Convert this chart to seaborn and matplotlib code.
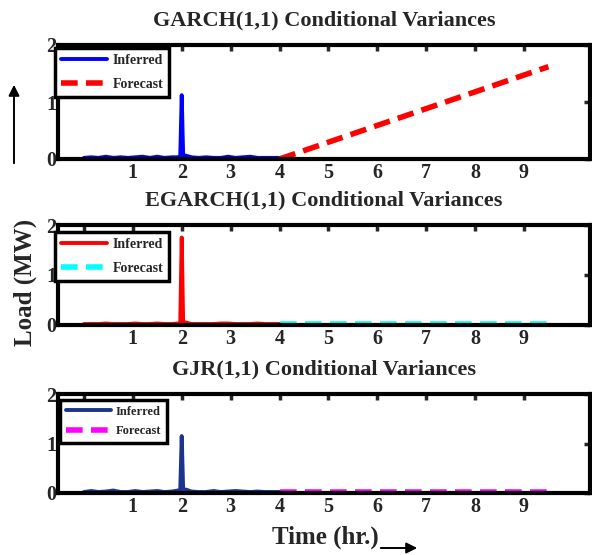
import numpy as np
import pandas as pd
import matplotlib
matplotlib.use("Agg")
import matplotlib.pyplot as plt
import seaborn as sns

# ---- data ----
titles = ["GARCH(1,1) Conditional Variances",
          "EGARCH(1,1) Conditional Variances",
          "GJR(1,1) Conditional Variances"]
inferred_x = [0.0, 0.15, 0.3, 0.45, 0.6, 0.75, 0.9, 1.05, 1.2, 1.35, 1.5, 1.65,
              1.8, 1.92, 1.97, 2.0, 2.03, 2.08, 2.2, 2.35, 2.5, 2.65, 2.8, 2.95,
              3.1, 3.25, 3.4, 3.55, 3.7, 3.85, 4.0]
garch_inferred = [0.02, 0.03, 0.02, 0.04, 0.02, 0.03, 0.02, 0.03, 0.04, 0.02, 0.04, 0.02,
                  0.03, 0.03, 0.05, 1.12, 0.05, 0.06, 0.03, 0.02, 0.03, 0.02, 0.02, 0.04,
                  0.02, 0.03, 0.04, 0.02, 0.02, 0.02, 0.02]
egarch_inferred = [0.02, 0.02, 0.02, 0.03, 0.02, 0.02, 0.02, 0.03, 0.02, 0.02, 0.03, 0.02,
                   0.02, 0.03, 0.04, 1.75, 0.04, 0.05, 0.02, 0.02, 0.02, 0.02, 0.03, 0.03,
                   0.02, 0.02, 0.02, 0.03, 0.02, 0.02, 0.02]
gjr_inferred = [0.02, 0.04, 0.02, 0.03, 0.05, 0.02, 0.02, 0.04, 0.02, 0.03, 0.04, 0.02,
                0.03, 0.05, 0.06, 1.15, 0.06, 0.07, 0.03, 0.02, 0.02, 0.04, 0.02, 0.03,
                0.04, 0.03, 0.02, 0.03, 0.02, 0.02, 0.02]
forecast_x = [4.0, 9.5]
garch_forecast = [0.0, 1.62]
egarch_forecast = [0.02, 0.02]
gjr_forecast = [0.02, 0.02]
inferred_colors = ["#0000ff", "#ff0000", "#1a3490"]
forecast_colors = ["#ff0000", "#00ffff", "#ff00ff"]
xticks = [0, 1, 2, 3, 4, 5, 6, 7, 8, 9]
xticklabels = ["", "1", "2", "3", "4", "5", "6", "7", "8", "9"]
yticks = [0, 1, 2]

sns.set_style("white")
plt.rcParams["font.family"] = ["Liberation Serif", "DejaVu Serif"]
plt.rcParams["font.weight"] = "bold"

fig = plt.figure(figsize=(5.92, 5.55), dpi=100)
H = 555.0
W = 592.0
boxes = [(58, 45, 590, 159), (58, 225, 590, 325), (58, 394, 590, 493)]
leg_fs = [10, 10, 9]
leg_hl = [3.3, 3.3, 3.6]
leg_ls = [0.75, 0.75, 0.6]
leg_anchor = [(-0.006, 0.975), (-0.006, 0.93), (0.004, 0.94)]

inferred = [garch_inferred, egarch_inferred, gjr_inferred]
forecast = [garch_forecast, egarch_forecast, gjr_forecast]

for i in range(3):
    l, t, r, b = boxes[i]
    ax = fig.add_axes([l / W, 1 - b / H, (r - l) / W, (b - t) / H])
    df_i = pd.DataFrame({"x": inferred_x, "y": inferred[i]})
    df_f = pd.DataFrame({"x": forecast_x, "y": forecast[i]})
    sns.lineplot(data=df_i, x="x", y="y", ax=ax, color=inferred_colors[i],
                 linewidth=2.8, label="Inferred")
    sns.lineplot(data=df_f, x="x", y="y", ax=ax, color=forecast_colors[i],
                 linewidth=4, linestyle=(0, (3, 1.5)), label="Forecast")
    ax.set_xlim(-0.53, 10.35)
    ax.set_ylim(0, 2)
    ax.set_xticks(xticks)
    ax.set_xticklabels(xticklabels)
    ax.set_yticks(yticks)
    ax.set_xlabel("")
    ax.set_ylabel("")
    ax.tick_params(direction="in", top=True, right=True, length=4, width=2.5,
                   labelsize=14.5, pad=3)
    ax.tick_params(axis="y", pad=1)
    for lab in ax.get_xticklabels() + ax.get_yticklabels():
        lab.set_fontweight("bold")
    for sp in ax.spines.values():
        sp.set_visible(True)
        sp.set_linewidth(3)
        sp.set_color("black")
    ax.set_title(titles[i], fontsize=16, fontweight="bold", pad=14)
    leg = ax.legend(loc="upper left", bbox_to_anchor=leg_anchor[i],
                    prop={"size": leg_fs[i], "weight": "bold",
                          "family": "Liberation Serif"},
                    frameon=True, fancybox=False, borderpad=0.45,
                    handlelength=leg_hl[i], labelspacing=leg_ls[i], handletextpad=0.4,
                    borderaxespad=0)
    leg.get_frame().set_edgecolor("black")
    leg.get_frame().set_linewidth(2.5)
    leg.get_frame().set_alpha(1)

fig.text(25 / W, 1 - 282 / H, "Load (MW)", rotation=90, ha="center", va="center",
         fontsize=18, fontweight="bold")
fig.text(325 / W, 1 - 537 / H, "Time (hr.)", ha="center", va="center",
         fontsize=18, fontweight="bold")
fig.add_artist(matplotlib.patches.FancyArrowPatch(
    (14 / W, 1 - 166 / H), (14 / W, 1 - 82 / H), transform=fig.transFigure,
    arrowstyle="-|>", mutation_scale=16, linewidth=1.4, color="black"))
fig.add_artist(matplotlib.patches.FancyArrowPatch(
    (378 / W, 1 - 548 / H), (420 / W, 1 - 548 / H), transform=fig.transFigure,
    arrowstyle="-|>", mutation_scale=16, linewidth=1.4, color="black"))

fig.savefig("out.png", dpi=100)
